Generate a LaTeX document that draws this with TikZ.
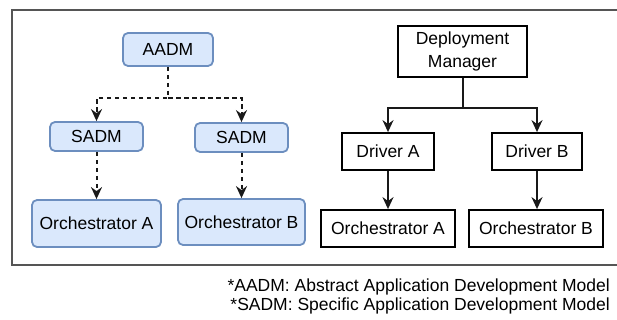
\documentclass[tikz,border=0pt]{standalone}
\usepackage{fontspec}
\setmainfont{Liberation Sans}
\usetikzlibrary{arrows.meta}
\definecolor{modelFill}{HTML}{DAE8FC}
\definecolor{modelStroke}{HTML}{6C8EBF}
\definecolor{frameStroke}{HTML}{555555}

\begin{document}
\begin{tikzpicture}[
  x=1pt,y=-1pt,
  font=\fontsize{17.5}{23}\selectfont,>={Stealth[length=12pt,width=11pt,inset=4pt]},
  model/.style={rectangle,rounded corners=5pt,draw=modelStroke,line width=1.8pt,fill=modelFill,inner sep=0pt,align=center},
  unit/.style={rectangle,draw=black,line width=1.8pt,fill=white,inner sep=0pt,align=center},
  dashedge/.style={->,line width=2pt,draw=black!90,dash pattern=on 4.5pt off 3.5pt},
  edge/.style={->,line width=2pt,draw=black!90}
]
\useasboundingbox (0,0) rectangle (617,320);
% Outer frame, open on the right where the picture is cut.
\draw[frameStroke,line width=2.4pt] (617,10) -- (12,10) -- (12,265) -- (617,265);
% Model-driven side (left) and driver side (right).
\node[model,minimum width=90pt,minimum height=33pt] (aadm) at (168,49.5) {AADM};
\node[model,minimum width=93pt,minimum height=29pt] (sadmA) at (96.5,136.5) {SADM};
\node[model,minimum width=93pt,minimum height=29pt] (sadmB) at (241.5,137.5) {SADM};
\node[model,minimum width=129pt,minimum height=47pt] (orchLA) at (96.5,223.5) {Orchestrator A};
\node[model,minimum width=127pt,minimum height=46pt] (orchLB) at (241.5,222) {Orchestrator B};
\coordinate (abranch) at (168,98);
\draw[dashedge] (aadm.south) -- (abranch) -| (sadmA.north);
\draw[dashedge] (abranch) -| (sadmB.north);
\draw[dashedge] (sadmA.south) -- (orchLA.north);
\draw[dashedge] (sadmB.south) -- (orchLB.north);
\node[unit,minimum width=129pt,minimum height=51pt] (manager) at (462.5,51.5) {Deployment\\Manager};
\node[unit,minimum width=92pt,minimum height=37pt] (driverA) at (388,151.5) {Driver A};
\node[unit,minimum width=90pt,minimum height=37pt] (driverB) at (537,151.5) {Driver B};
\node[unit,minimum width=134pt,minimum height=37pt] (orchRA) at (388,228.5) {Orchestrator A};
\node[unit,minimum width=134pt,minimum height=37pt] (orchRB) at (536,228.5) {Orchestrator B};
\coordinate (mbranch) at (462.5,108);
\draw[edge] (manager.south) -- (mbranch) -| (driverA.north);
\draw[edge] (mbranch) -| (driverB.north);
\draw[edge] (driverA.south) -- (orchRA.north);
\draw[edge] (driverB.south) -- (driverB.south |- orchRB.north);
\node[font=\fontsize{17.5}{19}\selectfont,align=right,anchor=north east,inner sep=0pt] (notes) at (610,279)
 {*AADM: Abstract Application Development Model\\
  *SADM: Specific Application Development Model};
\end{tikzpicture}
\end{document}
